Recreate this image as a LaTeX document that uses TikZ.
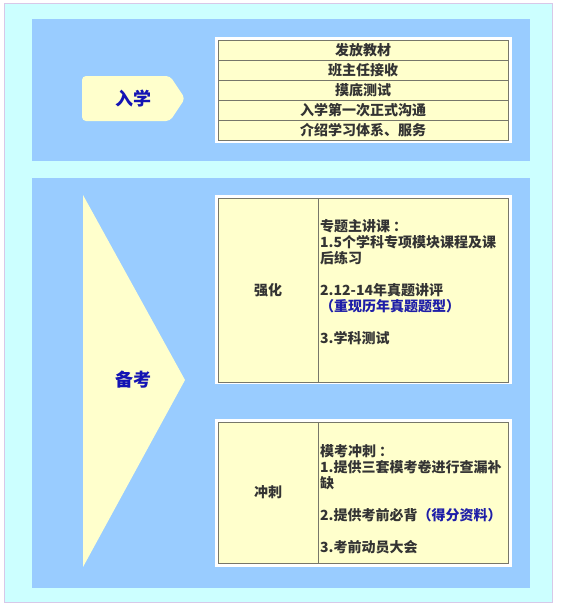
\documentclass[tikz,border=0pt]{standalone}
\usepackage{fontspec}
\setmainfont{Noto Sans CJK SC}
\definecolor{bgcyan}{HTML}{CCFFFF}
\definecolor{panelblue}{HTML}{99CCFF}
\definecolor{cellyellow}{HTML}{FFFFCC}
\definecolor{framegray}{HTML}{77776A}
\definecolor{titleblue}{HTML}{1414B4}
\definecolor{hiblue}{HTML}{1E1EA8}
\definecolor{textdark}{HTML}{333333}
\definecolor{outlinec}{HTML}{D8C8E8}
\newcommand{\fwcolon}{\kern3pt：}
\tikzset{
  cellfont/.style={font=\fontsize{14pt}{16pt}\selectfont\bfseries, text=textdark},
  rowcell/.style={draw=framegray, fill=cellyellow, line width=0.8pt, minimum width=290pt, minimum height=20pt, inner sep=0pt, outer sep=0pt, cellfont},
  tcell/.style={draw=framegray, fill=cellyellow, line width=0.8pt, inner sep=0pt, outer sep=0pt, cellfont},
  whiteframe/.style={fill=white, inner sep=0pt, outer sep=0pt},
  celltext/.style={anchor=north west, align=left, inner sep=0pt, cellfont},
  titletext/.style={font=\fontsize{18pt}{20pt}\selectfont\bfseries, text=titleblue},
  stagefill/.style={fill=cellyellow},
}
\begin{document}
\begin{tikzpicture}[x=1pt,y=-1pt]
\useasboundingbox (0,0) rectangle (560,610);
\fill[white] (0,0) rectangle (560,610);
\draw[outlinec, fill=bgcyan, line width=1pt] (4,4) rectangle (552,602);
\fill[panelblue] (32,19) rectangle (530,161);
\fill[panelblue] (32,178) rectangle (530,588);

% stage 1: pentagon
\fill[stagefill, rounded corners=4pt] (82,76) -- (170,76) -- (185,98.5) -- (170,121) -- (82,121) -- cycle;
\node[titletext] (enroll) at (133,98.5) {入学};

% table 1
\node[whiteframe, minimum width=297pt, minimum height=106pt] (frame1) at (363.5,90) {};
\node[rowcell] (r1) at (363,50) {发放教材};
\node[rowcell] (r2) at (363,70) {班主任接收};
\node[rowcell] (r3) at (363,90) {摸底测试};
\node[rowcell] (r4) at (363,110) {入学第一次正式沟通};
\node[rowcell] (r5) at (363,130) {介绍学习体系、服务};

% stage 2: triangle
\fill[stagefill] (83,195) -- (185,380) -- (83,567) -- cycle;
\node[titletext] (prep) at (133,380) {备考};

% table 2
\node[whiteframe, minimum width=297pt, minimum height=189pt] (frame2) at (363.5,289.5) {};
\node[tcell, minimum width=100pt, minimum height=184pt] (qh) at (268,290) {强化};
\node[tcell, minimum width=190pt, minimum height=184pt] (qhd) at (413,290) {};
\node[celltext] (qht) at (320,219) {专题主讲课\fwcolon\\1.5个学科专项模块课程及课\\后练习\\[16pt]2.12-14年真题讲评\\{\color{hiblue}（重现历年真题题型）}\\[16pt]3.学科测试};

% table 3
\node[whiteframe, minimum width=297pt, minimum height=148pt] (frame3) at (363.5,493) {};
\node[tcell, minimum width=100pt, minimum height=141pt] (cc) at (268,492.5) {冲刺};
\node[tcell, minimum width=190pt, minimum height=141pt] (ccd) at (413,492.5) {};
\node[celltext] (cct) at (320,444) {模考冲刺\fwcolon\\1.提供三套模考卷进行查漏补\\缺\\[16pt]2.提供考前必背{\color{hiblue}（得分资料）}\\[16pt]3.考前动员大会};
\end{tikzpicture}
\end{document}
